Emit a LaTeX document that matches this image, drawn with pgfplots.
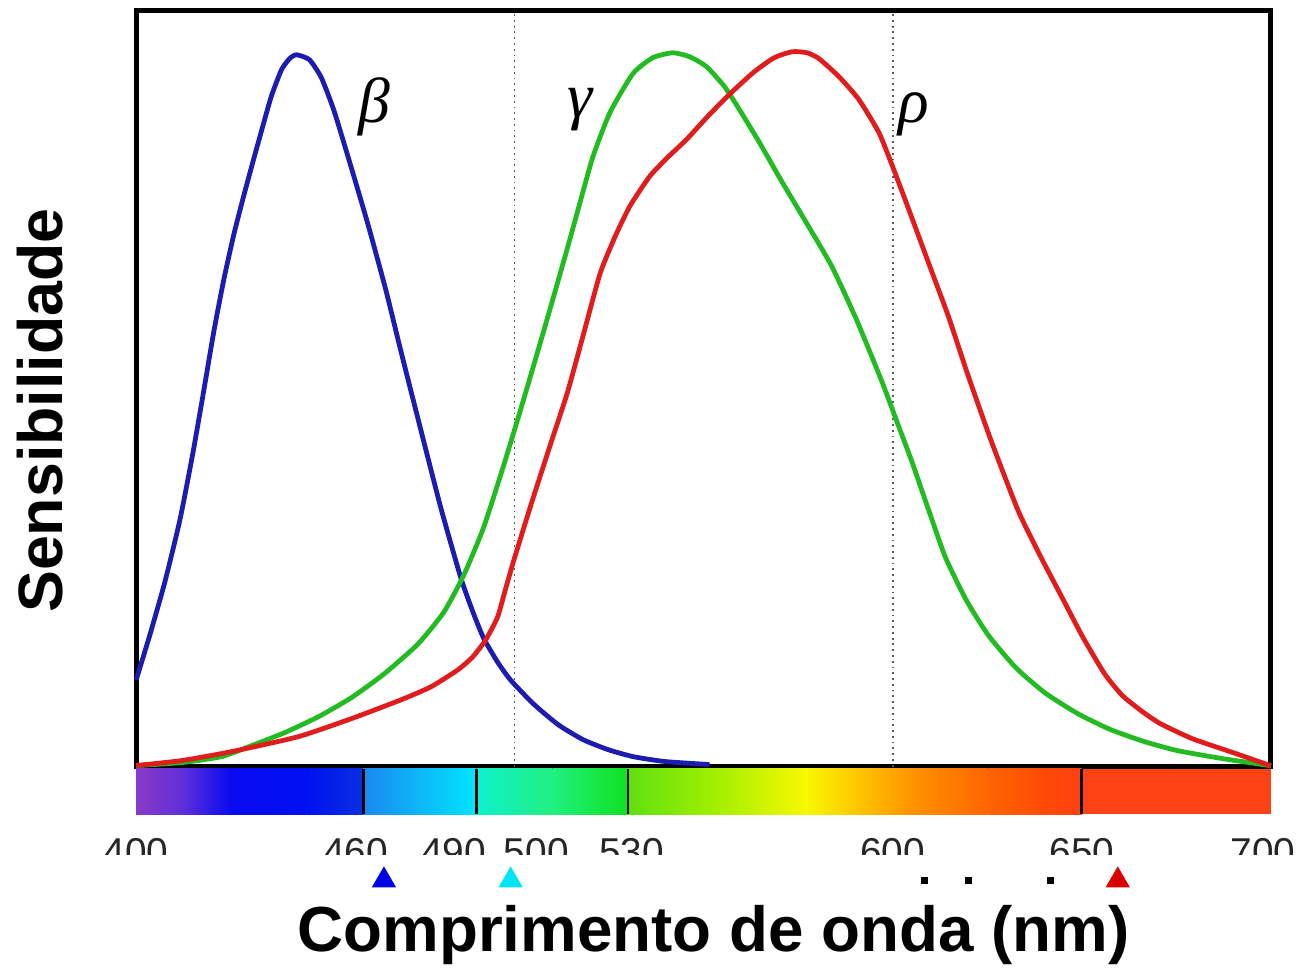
\documentclass[border=0pt]{standalone}
\usepackage{fontspec}
\setmainfont{Liberation Sans}
\newfontfamily\greekfont{Liberation Serif}
\usepackage{pgfplots}
\pgfplotsset{compat=1.18}

\definecolor{cblue}{HTML}{1C1CB0}
\definecolor{cgreen}{HTML}{22BB22}
\definecolor{cred}{HTML}{E01C1C}
\definecolor{tcyan}{HTML}{00E5F5}
\definecolor{s400}{HTML}{8A3AC8}
\definecolor{s412}{HTML}{6030D8}
\definecolor{s425}{HTML}{0A0AF0}
\definecolor{s445}{HTML}{0010F0}
\definecolor{s460}{HTML}{0830E0}
\definecolor{t460}{HTML}{1A88F0}
\definecolor{t490}{HTML}{00E6FF}
\definecolor{u490}{HTML}{10F0D0}
\definecolor{u510}{HTML}{20F080}
\definecolor{u530}{HTML}{10E020}
\definecolor{v530}{HTML}{60E010}
\definecolor{v555}{HTML}{A8F000}
\definecolor{v577}{HTML}{F8F800}
\definecolor{v590}{HTML}{FFC800}
\definecolor{v605}{HTML}{FF9400}
\definecolor{v625}{HTML}{FF6400}
\definecolor{v640}{HTML}{FF4A08}
\definecolor{v650}{HTML}{FF4010}
\definecolor{w650}{HTML}{FF4214}

\begin{document}
\begin{tikzpicture}
\begin{axis}[
  set layers,
  scale only axis,
  width=570pt, height=379.5pt,
  xmin=400, xmax=700, ymin=0, ymax=0.996,
  clip=false,
  axis line style={line width=2.5pt, black},
  ytick=\empty,
  xtick={400,458,483.9,505.8,531,600,650,697.9},
  xticklabels={400,460,490,500,530,600,650,700},
  major tick length=0pt,
  xticklabel style={anchor=north, inner sep=0pt, yshift=-36pt,
    font=\fontsize{19.5}{22}\selectfont, text=black!85},
  xlabel={Comprimento de onda (nm)},
  ylabel={Sensibilidade},
  every axis x label/.style={at={(rel axis cs:0.5088,-0.2446)}, anchor=base,
    font=\fontsize{32}{38}\selectfont\bfseries},
  every axis y label/.style={at={(rel axis cs:-0.0845,0.471)}, rotate=90, anchor=center,
    font=\fontsize{31.5}{38}\selectfont\bfseries},
]
% bounding box with the reference proportions
\path (axis cs:364.74,-0.2638) rectangle (axis cs:708.16,1.0105);

% dotted guides
\addplot[black!65, dotted, line width=0.9pt] coordinates {(500,0) (500,0.996)};
\addplot[black!65, dotted, line width=0.9pt] coordinates {(600,0) (600,0.996)};

% beta (blue)
\addplot[cblue, line width=2.4pt, smooth, tension=0.35] coordinates {
(400,0.1142) (403.68,0.1745) (407.63,0.2441) (411.58,0.3255) (415.0,0.4134)
(417.89,0.4961) (420.53,0.5735) (423.16,0.6417) (425.79,0.7008) (428.42,0.7520)
(431.05,0.8005) (433.68,0.8478) (435.79,0.8845) (438.42,0.9186) (440.53,0.9331)
(442.37,0.9383) (445.79,0.9318) (448.95,0.9081) (452.37,0.8635)
(456.84,0.7900) (461.32,0.7139) (466.05,0.6273) (470.0,0.5472) (475.26,0.4436)
(480.53,0.3412) (485.79,0.2493) (488.95,0.2047) (491.84,0.1693) (495.53,0.1378)
(498.95,0.1142) (505.0,0.0827) (511.58,0.0551) (518.16,0.0354) (524.74,0.0223)
(531.32,0.0131) (539.74,0.0066) (551.58,0.0026)};

% gamma (green)
\addplot[cgreen, line width=2.4pt, smooth, tension=0.35] coordinates {
(400,0.0013) (412.11,0.0052) (422.63,0.0131) (430.53,0.0276) (439.21,0.0446)
(448.16,0.0656) (456.84,0.0906) (465.53,0.1220) (474.47,0.1614) (481.32,0.2034)
(486.58,0.2520) (491.84,0.3150) (497.11,0.3963) (502.37,0.4829) (508.16,0.5814)
(513.95,0.6824) (517.37,0.7441) (520.79,0.8045) (525.26,0.8622) (531.32,0.9134)
(536.58,0.9344) (541.84,0.9409) (546.32,0.9357) (550.79,0.9226) (555.53,0.8963)
(559.47,0.8661) (564.74,0.8228) (570.79,0.7703) (577.37,0.7152) (583.95,0.6588)
(590.53,0.5879) (597.11,0.5079) (601.05,0.4554) (605.0,0.4029) (609.47,0.3386)
(613.95,0.2756) (619.47,0.2192) (625.26,0.1732) (632.63,0.1299) (640.26,0.0971)
(648.95,0.0696) (657.63,0.0486) (666.58,0.0328) (675.26,0.0210) (687.11,0.0105)
(700,0.0010)};

% rho (red)
\addplot[cred, line width=2.4pt, smooth, tension=0.35] coordinates {
(400,0.0013) (412.11,0.0079) (425.26,0.0197) (442.89,0.0394) (456.84,0.0630)
(470.0,0.0879) (477.89,0.1050) (485.0,0.1273) (488.95,0.1444) (492.37,0.1667)
(495.53,0.1969) (497.63,0.2336) (499.74,0.2703) (504.21,0.3425)
(509.47,0.4239) (513.95,0.4921) (518.16,0.5682) (522.63,0.6496) (526.58,0.6982)
(530.53,0.7388) (535.79,0.7782) (540.53,0.8031) (545.53,0.8268) (551.58,0.8596)
(557.63,0.8898) (563.42,0.9160) (568.68,0.9344) (573.42,0.9423) (577.37,0.9409)
(580.53,0.9331) (585.79,0.9094) (591.05,0.8793) (596.32,0.8360) (599.74,0.7940)
(604.21,0.7349) (609.47,0.6640) (614.74,0.5932) (620.0,0.5144) (626.05,0.4291)
(633.16,0.3373) (638.95,0.2782) (644.47,0.2257) (650.26,0.1706) (656.05,0.1220)
(660.79,0.0932) (666.05,0.0722) (670.79,0.0564) (679.21,0.0367) (688.42,0.0210)
(700,0.0010)};

% greek labels
\node[font={\fontsize{32}{36}\selectfont\greekfont\itshape}] at (axis cs:462.9,0.869) {β};
\node[font={\fontsize{32}{36}\selectfont\greekfont\itshape}] at (axis cs:517.4,0.866) {γ};
\node[font={\fontsize{32}{36}\selectfont\greekfont\itshape}] at (axis cs:605.5,0.860) {ρ};

% spectrum bar
\fill[left color=s400, right color=s412] (axis cs:400,-0.003) rectangle (axis cs:412.05,-0.063);
\fill[left color=s412, right color=s425] (axis cs:412,-0.003) rectangle (axis cs:425.05,-0.063);
\fill[left color=s425, right color=s445] (axis cs:425,-0.003) rectangle (axis cs:445.05,-0.063);
\fill[left color=s445, right color=s460] (axis cs:445,-0.003) rectangle (axis cs:460,-0.063);
\fill[left color=t460, right color=t490] (axis cs:460,-0.003) rectangle (axis cs:490,-0.063);
\fill[left color=u490, right color=u510] (axis cs:490,-0.003) rectangle (axis cs:510.05,-0.063);
\fill[left color=u510, right color=u530] (axis cs:510,-0.003) rectangle (axis cs:530,-0.063);
\fill[left color=v530, right color=v555] (axis cs:530,-0.003) rectangle (axis cs:555.05,-0.063);
\fill[left color=v555, right color=v577] (axis cs:555,-0.003) rectangle (axis cs:577.05,-0.063);
\fill[left color=v577, right color=v590] (axis cs:577,-0.003) rectangle (axis cs:590.05,-0.063);
\fill[left color=v590, right color=v605] (axis cs:590,-0.003) rectangle (axis cs:605.05,-0.063);
\fill[left color=v605, right color=v625] (axis cs:605,-0.003) rectangle (axis cs:625.05,-0.063);
\fill[left color=v625, right color=v640] (axis cs:625,-0.003) rectangle (axis cs:640.05,-0.063);
\fill[left color=v640, right color=v650] (axis cs:640,-0.003) rectangle (axis cs:650,-0.063);
\fill[w650] (axis cs:650,-0.003) rectangle (axis cs:700,-0.063);
\pgfplotsinvokeforeach{460,490,530,650}{
  \draw[black, line width=1.4pt] (axis cs:#1,-0.003) -- (axis cs:#1,-0.063);
}

% white band cutting the tick labels
\fill[white] (axis cs:364,-0.1168) rectangle (axis cs:709,-0.27);

% small markers under the bar
\addplot[only marks, mark=triangle*, mark size=6.6pt, mark options={fill=blue!90!black, draw=blue!90!black}] coordinates {(465.5,-0.150)};
\addplot[only marks, mark=triangle*, mark size=6.6pt, mark options={fill=tcyan, draw=tcyan}] coordinates {(499.0,-0.150)};
\addplot[only marks, mark=triangle*, mark size=6.6pt, mark options={fill=red!85!black, draw=red!85!black}] coordinates {(659.5,-0.150)};
\addplot[only marks, mark=square*, mark size=1.5pt, black] coordinates {(608.4,-0.150) (620.0,-0.150) (641.8,-0.150)};
\end{axis}
\end{tikzpicture}
\end{document}
